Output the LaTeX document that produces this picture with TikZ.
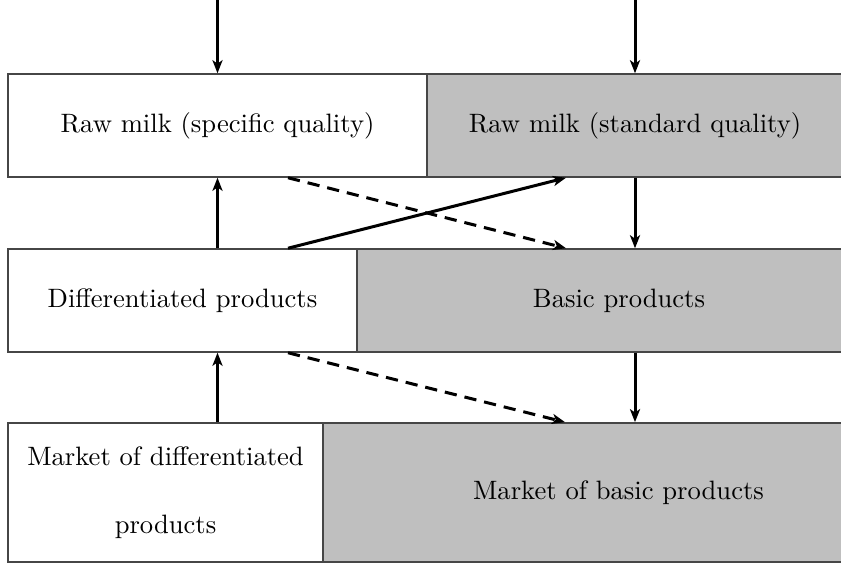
\documentclass[tikz,border=0pt]{standalone}
\usetikzlibrary{arrows.meta,calc}
\definecolor{boxgray}{RGB}{191,191,191}
\definecolor{edgegray}{RGB}{70,70,70}
\begin{document}
\begin{tikzpicture}[x=0.376pt,y=-0.376pt,
  wbox/.style={draw=edgegray,line width=0.6pt,fill=white,inner sep=0pt,align=center},
  gbox/.style={draw=edgegray,line width=0.6pt,fill=boxgray,inner sep=0pt,align=center},
  arr/.style={line width=1.13pt,-{Stealth[length=4.9pt,width=3.8pt,inset=1.3pt]}},
  darr/.style={arr,dash pattern=on 4.6pt off 3pt}]
\useasboundingbox (0,0) rectangle (841,563);
\clip (0,0) rectangle (841,563);
% row 1
\node[wbox,minimum width=157.5pt,minimum height=38.7pt] (rs) at (217.5,125.5) {Raw milk (specific quality)};
\node[gbox,minimum width=156.4pt,minimum height=38.7pt] (rb) at (635,125.5) {Raw milk (standard quality)};
% row 2
\node[wbox,minimum width=131.2pt,minimum height=38.7pt] (ds) at (182.5,300.5) {Differentiated products};
\node[gbox,minimum width=197pt,minimum height=38.7pt] (bp) at (619,300.5) {Basic products};
% row 3
\node[wbox,minimum width=118.4pt,minimum height=52.3pt] (ms) at (165.5,492.5) {Market of differentiated\\[13.6pt]products};
\node[gbox,minimum width=222.2pt,minimum height=52.3pt] (mb) at (618.5,492.5) {Market of basic products};
% free ends
\coordinate (t1) at (217.5,0);
\coordinate (t2) at (635,0);
% arrows
\draw[arr] (t1) -- (rs.north);
\draw[arr] (t2) -- (rb.north);
\draw[arr] (ds.north -| rs.south) -- (rs.south);
\draw[arr] (ms.north -| rs.south) -- (ds.south -| rs.south);
\draw[arr] (rb.south) -- (bp.north -| rb.south);
\draw[arr] (bp.south -| rb.south) -- (mb.north -| rb.south);
\draw[darr] ($(rs.south)+(70.5,0)$) -- ($(bp.north -| rb.south)+(-69,0)$);
\draw[arr] ($(ds.north -| rs.south)+(70.5,0)$) -- ($(rb.south)+(-69,0)$);
\draw[darr] ($(ds.south -| rs.south)+(70.5,0)$) -- ($(mb.north -| rb.south)+(-70,0)$);
\end{tikzpicture}
\end{document}
